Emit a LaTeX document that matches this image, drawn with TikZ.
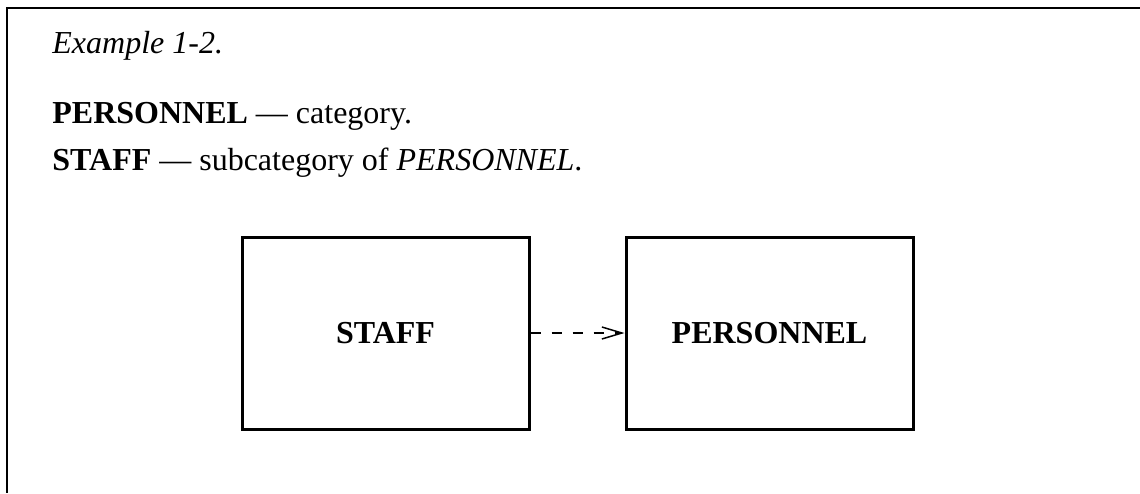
\documentclass[tikz,border=0pt]{standalone}
\usepackage{fontspec}
\setmainfont{Liberation Serif}
\usetikzlibrary{arrows.meta, positioning}

\begin{document}
\begin{tikzpicture}[x=0.5pt,y=-0.5pt,node distance=192pt,on grid,
        >={Straight Barb[length=10pt,width=6pt]},
        every node/.style={font=\fontsize{16pt}{19pt}\selectfont},
        line/.style={anchor=base west,inner sep=0pt},
        entity/.style={draw,line width=1.5pt,minimum width=143.5pt,minimum height=96pt,font=\fontsize{16pt}{19pt}\selectfont\bfseries},
        link/.style={->,line width=0.75pt,dash pattern=on 5pt off 5.5pt}]

      \useasboundingbox (0,0) rectangle (1140,493);
      % frame
      \draw[line width=1pt] (1140,7.5) -- (7,7.5) -- (7,493);

      \node[line] (title) at (52,53)  {\textit{Example 1-2.}};
      \node[line] (def1)  at (52,123) {\textbf{PERSONNEL} --- category.};
      \node[line] (def2)  at (52,170) {\textbf{STAFF} --- subcategory of \textit{PERSONNEL}.};

      \node[entity] (staff)     at (385.5,333)     {STAFF};
      \node[entity] (personnel) [right=of staff] {PERSONNEL};

      \draw[link] (staff) -- (personnel);
    \end{tikzpicture}
\end{document}
